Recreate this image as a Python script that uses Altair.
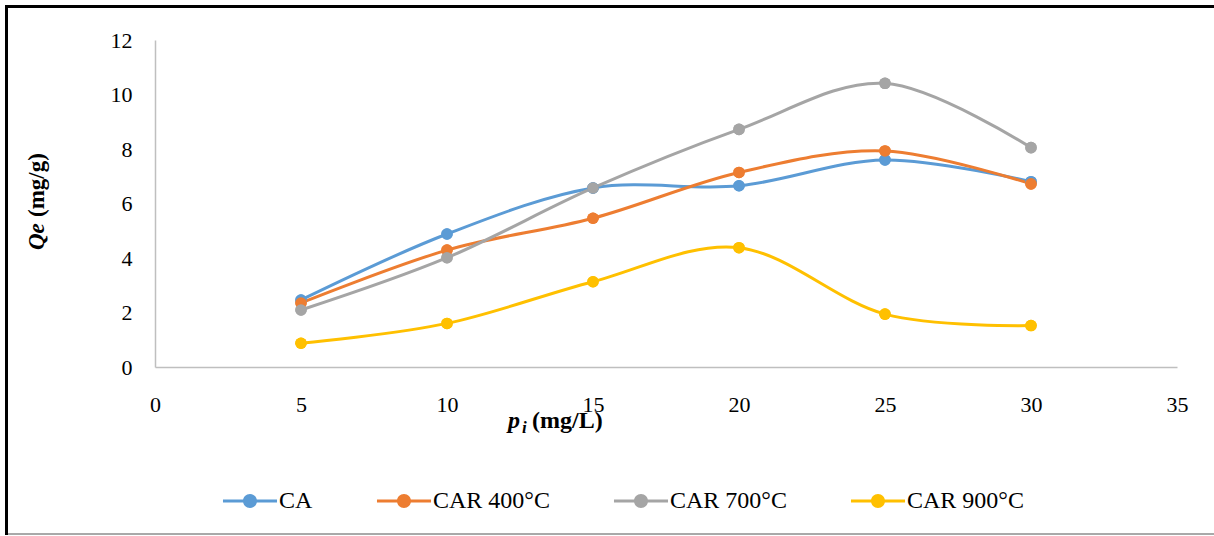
import altair as alt
import pandas as pd

# ---- data ----
p_values = [5, 10, 15, 20, 25, 30]
series_names = ["CA", "CAR 400°C", "CAR 700°C", "CAR 900°C"]
qe_ca = [2.46, 4.88, 6.57, 6.65, 7.60, 6.80]
qe_car400 = [2.35, 4.29, 5.46, 7.14, 7.93, 6.72]
qe_car700 = [2.09, 4.01, 6.57, 8.72, 10.41, 8.05]
qe_car900 = [0.87, 1.60, 3.13, 4.38, 1.94, 1.52]
colors = ["#5B9BD5", "#ED7D31", "#A5A5A5", "#FFC000"]
x_ticks = [0, 5, 10, 15, 20, 25, 30, 35]
y_ticks = [0, 2, 4, 6, 8, 10, 12]

rows = []
for name, vals in zip(series_names, [qe_ca, qe_car400, qe_car700, qe_car900]):
    for p, q in zip(p_values, vals):
        rows.append({"p": p, "Qe": q, "series": name})
df = pd.DataFrame(rows)

SERIF = "'Times New Roman', 'Liberation Serif', Times, serif"

x_enc = alt.X("p:Q", scale=alt.Scale(domain=[0, 35], nice=False),
              axis=alt.Axis(values=x_ticks, grid=False, ticks=False, title=None,
                            domainColor="#BFBFBF", domainWidth=1.5,
                            labelFont=SERIF, labelFontSize=22, labelColor="black",
                            labelPadding=27, labelFlush=False, labelOverlap=False))
y_enc = alt.Y("Qe:Q", scale=alt.Scale(domain=[0, 12], nice=False),
              axis=alt.Axis(values=y_ticks, grid=False, ticks=False, title=None,
                            domainColor="#BFBFBF", domainWidth=1.5,
                            labelFont=SERIF, labelFontSize=22, labelColor="black",
                            labelPadding=23, labelFlush=False, labelOverlap=False))

legend_path = ("M-3.86,-0.22 L3.86,-0.22 L3.86,0.22 L-3.86,0.22 Z "
               "M1,0 A1,1 0 1,1 -1,0 A1,1 0 1,1 1,0 Z")

color_enc = alt.Color("series:N",
                      scale=alt.Scale(domain=series_names, range=colors),
                      sort=series_names,
                      legend=alt.Legend(orient="none", legendX=83, legendY=449,
                                        direction="horizontal", columns=4,
                                        title=None, symbolType=legend_path,
                                        symbolSize=196, symbolStrokeWidth=0,
                                        symbolOpacity=1,
                                        labelFont=SERIF, labelFontSize=24,
                                        labelColor="black", labelOffset=17,
                                        columnPadding=63, labelLimit=300))

base = alt.Chart(df)
legend_points = base.mark_point(filled=True, size=133, opacity=1).encode(
    x=x_enc, y=y_enc, color=color_enc)
lines = base.mark_line(interpolate="cardinal", strokeWidth=3).encode(
    x=x_enc, y=y_enc, color=color_enc)
points = base.mark_point(filled=True, size=133, opacity=1).encode(
    x=x_enc, y=y_enc, color=color_enc)


def label(text, x, y, size, style="normal", angle=0):
    return alt.Chart(pd.DataFrame({"t": [text]})).mark_text(
        font=SERIF, fontSize=size, fontWeight="bold", fontStyle=style,
        align="left", baseline="alphabetic", color="black", angle=angle
    ).encode(x=alt.value(x), y=alt.value(y), text="t:N")

x_title = [
    label("p", 353, 388, 24, "italic"),
    label("i", 367, 393, 17, "italic"),
    label("(mg/L)", 377, 388, 24),
]
y_title = [
    label("Qe", -111, 210, 23, "italic", 270),
    label("(mg/g)", -111, 177, 23, "normal", 270),
]

def rule(x, x2, y, y2, color, width):
    return alt.Chart(pd.DataFrame({"t": [0]})).mark_rule(
        color=color, strokeWidth=width).encode(
        x=alt.value(x), x2=alt.value(x2), y=alt.value(y), y2=alt.value(y2))

border = [
    rule(-150, 1070, -33.5, -33.5, "black", 3),
    rule(-148.5, -148.5, -35, 495, "black", 3),
    rule(-147, 1070, 494, 494, "#8C8C8C", 1.5),
]

chart = alt.layer(legend_points, lines, points, *x_title, *y_title, *border).properties(
    width=1022, height=327,
    padding={"left": 155, "top": 40, "right": 37, "bottom": 169},
    autosize=alt.AutoSizeParams(type="none"),
    background="white",
).configure_view(stroke=None)

chart.save("out.html", embed_options={"renderer": "svg", "actions": False})
